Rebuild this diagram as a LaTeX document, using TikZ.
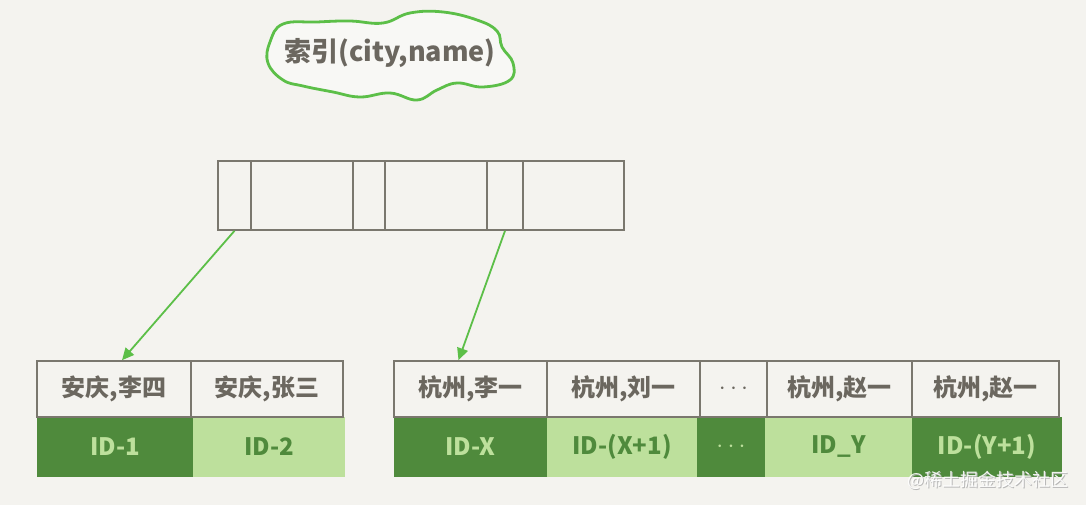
\documentclass[tikz,border=0pt]{standalone}
\usepackage{fontspec}
\newfontfamily\cjk{Noto Sans CJK SC}
\usetikzlibrary{arrows.meta}
\definecolor{bg}{HTML}{F4F3EF}
\definecolor{linegray}{HTML}{7A776E}
\definecolor{textgray}{HTML}{6B675F}
\definecolor{darkgreen}{HTML}{4F8A3C}
\definecolor{lightgreen}{HTML}{BDE09C}
\definecolor{arrowgreen}{HTML}{5CBF48}
\tikzset{
  keycell/.style={draw=linegray, line width=1.6pt, minimum height=56pt, inner sep=0pt,
    font=\cjk\bfseries\fontsize{24}{24}\selectfont, text=textgray},
  pagecell/.style={draw=linegray, line width=1.6pt, minimum height=69pt, inner sep=0pt},
  darkid/.style={fill=darkgreen, minimum height=60pt, inner sep=0pt, text=lightgreen,
    font=\cjk\bfseries\fontsize{24}{24}\selectfont},
  lightid/.style={fill=lightgreen, minimum height=60pt, inner sep=0pt, text=darkgreen,
    font=\cjk\bfseries\fontsize{24}{24}\selectfont},
  ptr/.style={draw=arrowgreen, line width=1.8pt, -{Triangle[length=12pt,width=11pt]}}
}
\begin{document}
\begin{tikzpicture}[x=1pt,y=-1pt]
\fill[bg] (0,0) rectangle (1086,505);
\useasboundingbox (0,0) rectangle (1086,505);
% cloud
\draw[arrowgreen, line width=2.8pt, fill=white!40!bg] plot[smooth cycle, tension=0.7] coordinates {
 (270,42) (283,24) (317,22) (350,21) (383,23) (410,13) (443,12) (477,20) (497,31)
 (502,47) (513,63) (510,80) (483,87) (457,83) (437,90) (417,100) (390,93) (360,97)
 (333,92) (303,86) (283,80) (268,63)};
\node[font=\cjk\bfseries\fontsize{27}{27}\selectfont, text=textgray] (title) at (390,53) {索引(city,name)};
% internal page
\node[pagecell, minimum width=33pt]  (p1) at (234.5,195.5) {};
\node[pagecell, minimum width=102pt] (p2) at (302,195.5) {};
\node[pagecell, minimum width=32pt]  (p3) at (369,195.5) {};
\node[pagecell, minimum width=102pt] (p4) at (436,195.5) {};
\node[pagecell, minimum width=36pt]  (p5) at (505,195.5) {};
\node[pagecell, minimum width=101pt] (p6) at (573.5,195.5) {};
% left leaf
\node[darkid, minimum width=156pt] (b1) at (115,447) {ID-1};
\node[lightid, minimum width=152pt] (b2) at (269,447) {ID-2};
\node[keycell, minimum width=154pt] (l1) at (114,389) {安庆,李四};
\node[keycell, minimum width=152pt] (l2) at (267,389) {安庆,张三};
% right leaf
\node[darkid, minimum width=153pt] (c1) at (470.5,447) {ID-X};
\node[lightid, minimum width=150pt] (c2) at (622,447) {ID-(X+1)};
\node[darkid, minimum width=68pt] (c3) at (731,447) {$\cdots$};
\node[lightid, minimum width=147pt] (c4) at (838.5,447) {ID\_Y};
\node[darkid, minimum width=150pt] (c5) at (987,447) {ID-(Y+1)};
\node[keycell, minimum width=153pt] (r1) at (470.5,389) {杭州,李一};
\node[keycell, minimum width=153pt] (r2) at (623.5,389) {杭州,刘一};
\node[keycell, minimum width=67pt] (r3) at (733.5,389) {$\cdots$};
\node[keycell, minimum width=145pt] (r4) at (839.5,389) {杭州,赵一};
\node[keycell, minimum width=147pt] (r5) at (985.5,389) {杭州,赵一};
% pointers
\draw[ptr] (p1.south) -- ([xshift=8pt]l1.north);
\draw[ptr] (p5.south) -- ([xshift=-12pt]r1.north);
% watermark
\node[font=\cjk\fontsize{18}{18}\selectfont, text=gray!60, opacity=0.9] (wmshadow) at (989,481) {@稀土掘金技术社区};
\node[font=\cjk\fontsize{18}{18}\selectfont, text=white, opacity=0.9] (wm) at (988,480) {@稀土掘金技术社区};
\end{tikzpicture}
\end{document}
